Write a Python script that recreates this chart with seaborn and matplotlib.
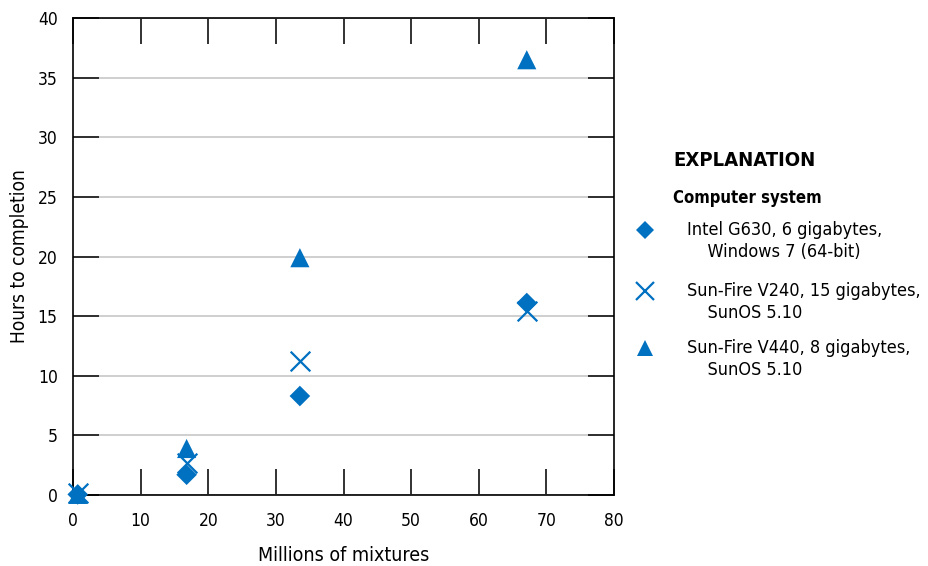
import matplotlib
matplotlib.use("Agg")
import matplotlib.pyplot as plt
from matplotlib.lines import Line2D
import seaborn as sns
import pandas as pd

# Data (millions of mixtures vs hours to completion)
mixtures = [0.7, 16.8, 33.55, 67.1]
intel_g630 = [0.05, 1.7, 8.3, 16.1]
sunfire_v240 = [0.15, 2.7, 11.2, 15.4]
sunfire_v440 = [0.05, 3.9, 19.9, 36.5]

series_names = [
    "Intel G630, 6 gigabytes,\n    Windows 7 (64-bit)",
    "Sun-Fire V240, 15 gigabytes,\n    SunOS 5.10",
    "Sun-Fire V440, 8 gigabytes,\n    SunOS 5.10",
]
x_ticks = [0, 10, 20, 30, 40, 50, 60, 70, 80]
y_ticks = [0, 5, 10, 15, 20, 25, 30, 35, 40]

sns.set_theme(style="white")
plt.rcParams["font.family"] = ["DejaVu Sans", "Liberation Sans"]
plt.rcParams["font.stretch"] = "condensed"

BLUE = "#0070C0"

fig = plt.figure(figsize=(9.29, 5.66), dpi=100)
ax = fig.add_axes([73 / 929, 1 - 495 / 566, (614 - 73) / 929, (495 - 18) / 566])

frames = []
for name, vals in zip(series_names, [intel_g630, sunfire_v240, sunfire_v440]):
    frames.append(pd.DataFrame({"x": mixtures, "y": vals, "system": name}))
df = pd.concat(frames, ignore_index=True)

marker_map = {series_names[0]: "D", series_names[1]: "x", series_names[2]: "^"}
size_map = {series_names[0]: 110, series_names[1]: 200, series_names[2]: 190}
for name in series_names:
    sub = df[df["system"] == name]
    kw = dict(color=BLUE, marker=marker_map[name], s=size_map[name], ax=ax,
              legend=False, clip_on=False, zorder=5)
    if marker_map[name] == "x":
        kw["linewidth"] = 1.6
    else:
        kw["edgecolor"] = "none"
    sns.scatterplot(data=sub, x="x", y="y", **kw)

ax.set_xlim(0, 80)
ax.set_ylim(0, 40)
ax.set_xticks(x_ticks)
ax.set_yticks(y_ticks)
ax.set_xticklabels([str(t) for t in x_ticks])
ax.set_yticklabels([str(t) for t in y_ticks])
ax.yaxis.grid(True, color="#cccccc", linewidth=1.3)
ax.xaxis.grid(False)
ax.set_axisbelow(True)
for sp in ax.spines.values():
    sp.set_color("black")
    sp.set_linewidth(1.2)
ax.tick_params(direction="in", length=19, width=1.3, color="#222222",
               top=True, right=True, left=True, bottom=True,
               labelsize=12.5, labelcolor="black")
ax.tick_params(axis="x", pad=12)
ax.tick_params(axis="y", pad=11)
ax.set_xlabel("Millions of mixtures", fontsize=14, labelpad=12, color="black")
ax.set_ylabel("Hours to completion", fontsize=13.7, labelpad=6, color="black")

# Explanation (legend)
def fx(px):
    return px / 929

def fy(py):
    return 1 - py / 566

fig.text(fx(673), fy(160), "EXPLANATION", fontsize=14.5, fontweight="bold",
         va="center", ha="left", color="black")
fig.text(fx(673), fy(198), "Computer system", fontsize=12, fontweight="bold",
         va="center", ha="left", color="black")
entry_y = [230, 291, 348]
leg_ms = {"D": 9.5, "x": 13, "^": 12}
for name, py in zip(series_names, entry_y):
    m = marker_map[name]
    line = Line2D([fx(645)], [fy(py)], marker=m, color=BLUE, linestyle="",
                  markersize=leg_ms[m], markeredgewidth=1.6 if m == "x" else 0,
                  transform=fig.transFigure)
    fig.add_artist(line)
    first, second = name.split("\n")
    fig.text(fx(687), fy(py), first, fontsize=13, va="center", ha="left", color="black")
    fig.text(fx(687), fy(py + 22), second, fontsize=13, va="center", ha="left", color="black")

fig.savefig("out.png", dpi=100)
